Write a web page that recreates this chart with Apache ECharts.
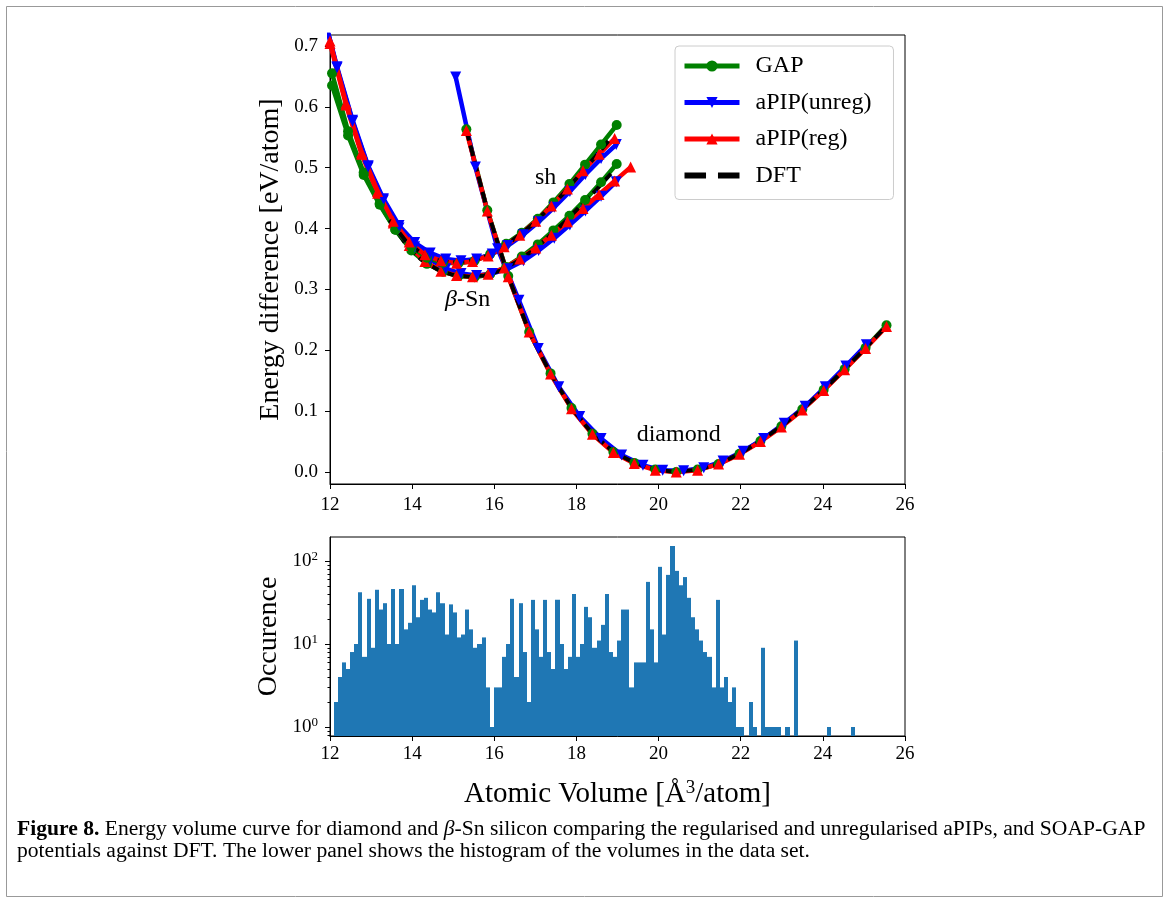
<!DOCTYPE html>
<html>
<head>
<meta charset="utf-8">
<script src="https://cdn.jsdelivr.net/npm/echarts@6/dist/echarts.min.js"></script>
<style>
html,body{margin:0;padding:0;background:#ffffff;}
#chart{width:1169px;height:903px;}
</style>
</head>
<body>
<div id="chart"></div>
<script>
// ---------------- DATA ----------------
// top panel x ticks / y ticks
const xTicks = [12, 14, 16, 18, 20, 22, 24, 26];
const energyTicks = [0.0, 0.1, 0.2, 0.3, 0.4, 0.5, 0.6, 0.7];

// sh and beta-Sn curves: volumes of each method
const gapVol   = [12.05, 12.44, 12.82, 13.21, 13.59, 13.98, 14.36, 14.75, 15.13, 15.52, 15.90, 16.29, 16.67, 17.06, 17.44, 17.83, 18.21, 18.60, 18.98];
const unregVol = [11.79, 12.17, 12.55, 12.93, 13.30, 13.68, 14.06, 14.44, 14.82, 15.19, 15.57, 15.95, 16.33, 16.71, 17.08, 17.46, 17.84, 18.22, 18.60, 18.97];
const regVol   = [12.00, 12.39, 12.77, 13.16, 13.54, 13.93, 14.31, 14.70, 15.08, 15.47, 15.85, 16.24, 16.62, 17.01, 17.39, 17.78, 18.16, 18.55, 18.93, 19.32];
const dftVol   = [13.45, 13.84, 14.22, 14.61, 14.99, 15.38, 15.76, 16.15, 16.53, 16.92, 17.30, 17.69, 18.07, 18.46, 18.84];

// sh (upper branch)
const shGAP   = [0.635, 0.553, 0.488, 0.439, 0.398, 0.370, 0.352, 0.344, 0.343, 0.347, 0.358, 0.375, 0.393, 0.416, 0.443, 0.473, 0.505, 0.538, 0.570];
const shUnreg = [0.765, 0.666, 0.578, 0.503, 0.449, 0.405, 0.377, 0.360, 0.350, 0.347, 0.350, 0.358, 0.372, 0.390, 0.411, 0.435, 0.461, 0.489, 0.515, 0.538];
const shReg   = [0.708, 0.606, 0.525, 0.461, 0.412, 0.378, 0.357, 0.347, 0.343, 0.346, 0.355, 0.370, 0.389, 0.412, 0.437, 0.465, 0.495, 0.522, 0.548];
const shDFT   = [0.414, 0.380, 0.359, 0.348, 0.344, 0.346, 0.353, 0.367, 0.385, 0.406, 0.431, 0.458, 0.488, 0.518, 0.549];

// beta-Sn (lower branch)
const bsnGAP   = [0.655, 0.560, 0.492, 0.441, 0.398, 0.364, 0.342, 0.329, 0.322, 0.320, 0.325, 0.337, 0.354, 0.374, 0.397, 0.421, 0.447, 0.476, 0.506];
const bsnUnreg = [0.765, 0.664, 0.576, 0.501, 0.447, 0.401, 0.370, 0.349, 0.334, 0.326, 0.323, 0.326, 0.334, 0.347, 0.364, 0.384, 0.406, 0.429, 0.453, 0.477];
const bsnReg   = [0.704, 0.603, 0.522, 0.458, 0.409, 0.372, 0.346, 0.330, 0.323, 0.321, 0.325, 0.335, 0.350, 0.368, 0.389, 0.411, 0.433, 0.456, 0.478, 0.501];
const bsnDFT   = [0.414, 0.375, 0.349, 0.333, 0.324, 0.321, 0.323, 0.331, 0.345, 0.363, 0.385, 0.409, 0.435, 0.462, 0.490];

// diamond
const diaVol      = [15.32, 15.83, 16.34, 16.85, 17.37, 17.88, 18.39, 18.90, 19.41, 19.92, 20.43, 20.95, 21.46, 21.97, 22.48, 22.99, 23.50, 24.02, 24.53, 25.04, 25.55];
const diaGAP      = [0.563, 0.430, 0.322, 0.230, 0.162, 0.105, 0.063, 0.033, 0.015, 0.004, 0.000, 0.004, 0.013, 0.030, 0.051, 0.075, 0.103, 0.135, 0.169, 0.204, 0.241];
const diaReg      = [0.561, 0.429, 0.321, 0.230, 0.161, 0.104, 0.062, 0.032, 0.014, 0.003, 0.000, 0.003, 0.013, 0.029, 0.050, 0.074, 0.102, 0.134, 0.168, 0.203, 0.239];
const diaDFT      = [0.562, 0.430, 0.322, 0.230, 0.162, 0.105, 0.063, 0.033, 0.015, 0.004, 0.000, 0.004, 0.013, 0.030, 0.051, 0.075, 0.103, 0.135, 0.169, 0.204, 0.240];
const diaUnregVol = [15.06, 15.54, 16.08, 16.60, 17.07, 17.57, 18.08, 18.60, 19.10, 19.62, 20.10, 20.61, 21.10, 21.57, 22.06, 22.56, 23.06, 23.57, 24.06, 24.56, 25.06];
const diaUnreg    = [0.649, 0.501, 0.367, 0.282, 0.203, 0.140, 0.091, 0.055, 0.028, 0.011, 0.003, 0.002, 0.007, 0.018, 0.034, 0.055, 0.080, 0.108, 0.140, 0.174, 0.209];

// phase labels
const phaseNames = ['sh', 'β-Sn', 'diamond'];
const phaseX = [17.25, 15.35, 20.49];
const phaseY = [0.483, 0.2825, 0.0608];

// histogram of volumes (bin width 0.1 starting at 12.09)
const histBinStart = 12.09;
const histBinWidth = 0.1;
const histCounts = [
  2, 4, 6, 5, 8, 10, 42, 7, 35, 9,
  45, 26, 31, 10, 46, 10, 46, 15, 18, 51,
  21, 34, 36, 26, 24, 42, 31, 13, 30, 24,
  12, 13, 26, 15, 9, 10, 12, 3, 1, 3,
  3, 7, 10, 35, 4, 31, 8, 2, 34, 15,
  7, 34, 8, 5, 34, 10, 5, 7, 40, 7,
  10, 28, 21, 9, 11, 17, 40, 8, 7, 11,
  26, 26, 3, 6, 6, 6, 56, 15, 6, 85,
  13, 68, 152, 76, 51, 64, 36, 21, 15, 11,
  8, 7, 3, 34, 3, 4, 2, 3, 1, 1,
  0, 2, 1, 0, 9, 1, 1, 1, 1, 0,
  1, 0, 11, 0, 0, 0, 0, 0, 0, 0,
  1, 0, 0, 0, 0, 0, 1
];
const occMajorTicks = [1, 10, 100];
const occMinorTicks = [0.8, 0.9, 2, 3, 4, 5, 6, 7, 8, 9, 20, 30, 40, 50, 60, 70, 80, 90];

// ---------------- CHART ----------------
const FONT = '"Liberation Serif", "Times New Roman", serif';
const GREEN = '#008000', BLUE = '#0000ff', RED = '#ff0000', BLACK = '#000000', HIST = '#1f77b4';
const TRI_DOWN = 'path://M0,0L10,0L5,8.66Z';

function pairs(xs, ys) { return ys.map((y, i) => [xs[i], y]); }

function curve(name, xs, ys, color, symbol, size, dashed) {
  return {
    name: name, type: 'line', xAxisIndex: 0, yAxisIndex: 0,
    data: pairs(xs, ys),
    symbol: dashed ? 'none' : symbol,
    symbolSize: size,
    showSymbol: !dashed,
    clip: true,
    silent: true,
    lineStyle: { color: color, width: dashed ? 4 : 4.5, type: dashed ? [11, 5] : 'solid' },
    itemStyle: { color: color, borderWidth: 0 },
    emphasis: { disabled: true },
    animation: false
  };
}

const series = [];
function phase(gx, g, ux, u, rx, r, dx, d) {
  series.push(curve('GAP', gx, g, GREEN, 'circle', 10, false));
  series.push(curve('aPIP(unreg)', ux, u, BLUE, TRI_DOWN, 11, false));
  series.push(curve('aPIP(reg)', rx, r, RED, 'triangle', 11, false));
  series.push(curve('DFT', dx, d, BLACK, 'none', 0, true));
}
phase(diaVol, diaGAP, diaUnregVol, diaUnreg, diaVol, diaReg, diaVol, diaDFT);
phase(gapVol, bsnGAP, unregVol, bsnUnreg, regVol, bsnReg, dftVol, bsnDFT);
phase(gapVol, shGAP, unregVol, shUnreg, regVol.slice(0, shReg.length), shReg, dftVol, shDFT);

// phase annotations
series.push({
  type: 'scatter', xAxisIndex: 0, yAxisIndex: 0, silent: true,
  symbolSize: 0,
  itemStyle: { color: '#000', opacity: 0 },
  data: phaseNames.map((n, i) => [phaseX[i], phaseY[i], n]),
  label: {
    show: true, position: [0, 0], align: 'center', verticalAlign: 'middle',
    color: '#000', opacity: 1, textBorderWidth: 0, textBorderColor: 'transparent',
    fontFamily: FONT, fontSize: 24,
    formatter: p => p.value[2].replace('β', '{i|β}'),
    rich: { i: { fontFamily: FONT, fontSize: 24, fontStyle: 'italic', color: '#000' } }
  },
  animation: false
});

// histogram
const histData = [];
histCounts.forEach((c, i) => {
  if (c > 0) histData.push([histBinStart + i * histBinWidth, histBinStart + (i + 1) * histBinWidth, c]);
});
const OCC_MIN = 0.779, OCC_MAX = 194.5;
series.push({
  type: 'custom', xAxisIndex: 1, yAxisIndex: 1, silent: true,
  data: histData,
  encode: { x: [0, 1], y: 2 },
  renderItem: function (params, api) {
    const p0 = api.coord([api.value(0), api.value(2)]);
    const p1 = api.coord([api.value(1), OCC_MIN]);
    const x0 = Math.round(p0[0]), x1 = Math.round(p1[0]);
    return {
      type: 'rect',
      shape: { x: x0, y: p0[1], width: x1 - x0, height: p1[1] - p0[1] },
      style: { fill: HIST, stroke: null }
    };
  },
  animation: false
});

const tickLabel = { fontFamily: FONT, fontSize: 19, color: '#000' };
const axisLineStyle = { show: true, onZero: false, lineStyle: { color: '#000', width: 1 } };

const option = {
  backgroundColor: '#ffffff',
  animation: false,
  grid: [
    { left: 330, top: 35, width: 575, height: 449, show: true, borderColor: '#000', borderWidth: 1, backgroundColor: 'transparent' },
    { left: 330, top: 537, width: 575, height: 199, show: true, borderColor: '#000', borderWidth: 1, backgroundColor: 'transparent' }
  ],
  xAxis: [
    {
      gridIndex: 0, type: 'value', min: xTicks[0], max: xTicks[xTicks.length - 1], interval: 2,
      axisLine: axisLineStyle, splitLine: { show: false },
      axisTick: { show: true, inside: false, length: 5, lineStyle: { color: '#000' } },
      axisLabel: Object.assign({ margin: 12 }, tickLabel)
    },
    {
      gridIndex: 1, type: 'value', min: xTicks[0], max: xTicks[xTicks.length - 1], interval: 2,
      axisLine: axisLineStyle, splitLine: { show: false },
      axisTick: { show: true, inside: false, length: 5, lineStyle: { color: '#000' } },
      axisLabel: Object.assign({ margin: 9 }, tickLabel),
      name: 'Atomic Volume [Å{s|3}/atom]', nameLocation: 'middle', nameGap: 43,
      nameTextStyle: {
        fontFamily: FONT, fontSize: 29, color: '#000',
        rich: { s: { fontFamily: FONT, fontSize: 19, color: '#000', verticalAlign: 'top', padding: [0, 0, 12, 0] } }
      }
    }
  ],
  yAxis: [
    {
      gridIndex: 0, type: 'value', min: -0.0197, max: 0.718, position: 'left',
      axisLine: axisLineStyle, splitLine: { show: false },
      axisTick: { show: true, inside: false, length: 5, customValues: energyTicks, lineStyle: { color: '#000' } },
      axisLabel: Object.assign({ margin: 12, customValues: energyTicks, formatter: v => v.toFixed(1) }, tickLabel),
      name: 'Energy difference [eV/atom]', nameLocation: 'middle', nameGap: 45,
      nameTextStyle: { fontFamily: FONT, fontSize: 28, color: '#000' }
    },
    {
      gridIndex: 1, type: 'log', logBase: 10, min: OCC_MIN, max: OCC_MAX, position: 'left',
      axisLine: axisLineStyle, splitLine: { show: false },
      axisTick: { show: true, inside: false, length: 5, customValues: occMajorTicks, lineStyle: { color: '#000' } },
      axisLabel: Object.assign({
        margin: 12, customValues: occMajorTicks,
        formatter: v => '10{s|' + Math.round(Math.log10(v)) + '}',
        rich: { s: { fontFamily: FONT, fontSize: 13, color: '#000', verticalAlign: 'top', padding: [0, 0, 8, 0] } }
      }, tickLabel),
      name: 'Occurence', nameLocation: 'middle', nameGap: 47,
      nameTextStyle: { fontFamily: FONT, fontSize: 28, color: '#000' }
    },
    {
      gridIndex: 1, type: 'log', logBase: 10, min: OCC_MIN, max: OCC_MAX, position: 'left',
      axisLine: { show: false }, splitLine: { show: false },
      axisTick: { show: true, inside: false, length: 2.5, customValues: occMinorTicks, lineStyle: { color: '#000' } },
      axisLabel: { show: false }
    }
  ],
  legend: {
    orient: 'vertical', left: 675, top: 46,
    data: ['GAP', 'aPIP(unreg)', 'aPIP(reg)', { name: 'DFT', icon: 'path://M0,0H18V5H0ZM28,0H46V5H28Z' }],
    itemWidth: 55, itemHeight: 14, itemGap: 12.5,
    padding: [8, 22, 12, 7],
    lineStyle: { width: 5 },
    backgroundColor: '#ffffff', borderColor: '#cccccc', borderWidth: 1, borderRadius: 4,
    textStyle: { fontFamily: FONT, fontSize: 24, color: '#000', padding: [0, 0, 0, 11], lineHeight: 23 },
    selectedMode: false
  },
  graphic: [
    { type: 'rect', z: -10, shape: { x: 6.5, y: 6.5, width: 1156, height: 890 }, style: { fill: 'none', stroke: '#999999', lineWidth: 1 } },
    {
      type: 'text', left: 17, top: 818,
      style: {
        text: '{b|Figure 8.} Energy volume curve for diamond and {i|β}-Sn silicon comparing the regularised and unregularised aPIPs, and SOAP-GAP',
        fontFamily: FONT, fontSize: 21.6, fill: '#000',
        rich: {
          b: { fontFamily: FONT, fontSize: 21.6, fontWeight: 'bold', fill: '#000' },
          i: { fontFamily: FONT, fontSize: 21.6, fontStyle: 'italic', fill: '#000' }
        }
      }
    },
    {
      type: 'text', left: 17, top: 840,
      style: {
        text: 'potentials against DFT. The lower panel shows the histogram of the volumes in the data set.',
        fontFamily: FONT, fontSize: 21.6, fill: '#000'
      }
    }
  ],
  series: series
};

const chart = echarts.init(document.getElementById('chart'), null, { renderer: 'canvas' });
chart.setOption(option);
</script>
</body>
</html>
